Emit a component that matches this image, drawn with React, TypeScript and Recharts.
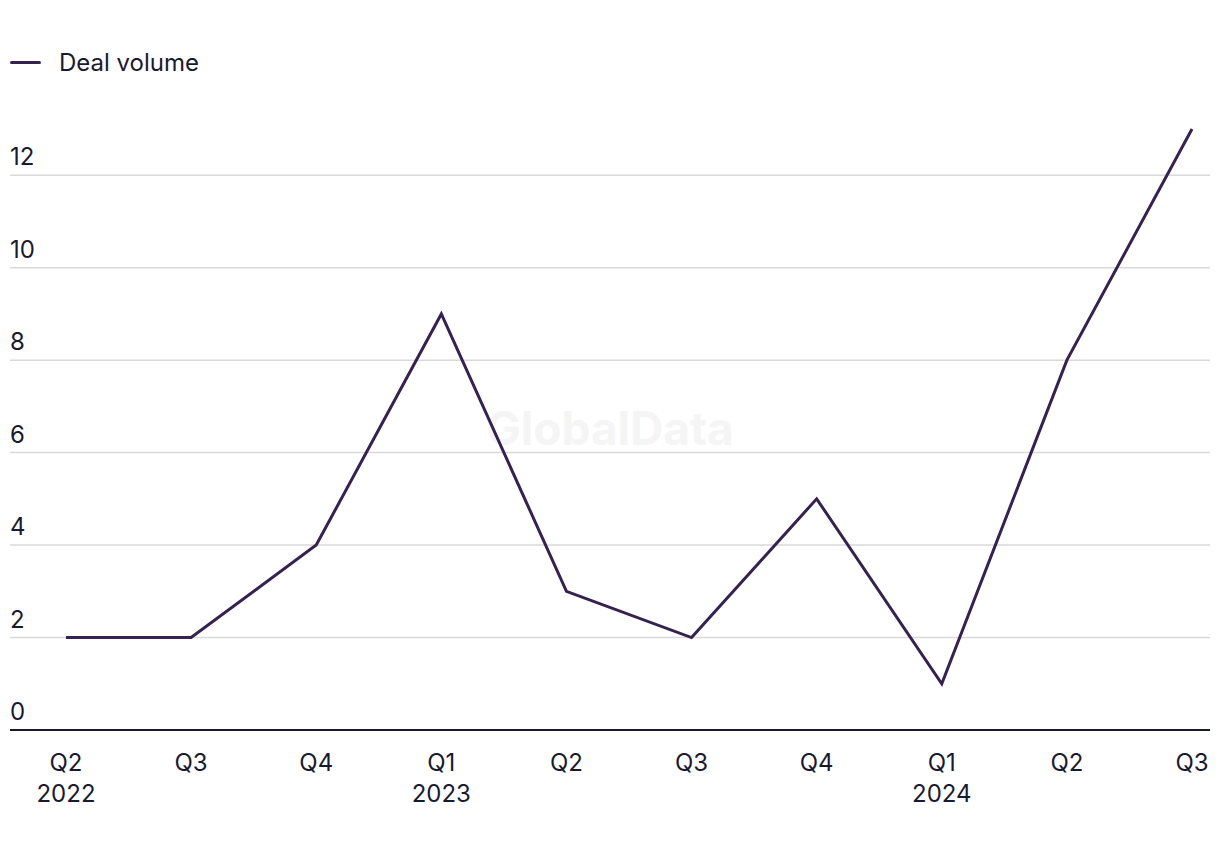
import React from 'react';
import { LineChart, Line, XAxis, YAxis, CartesianGrid } from 'recharts';

const quarters = ['Q2', 'Q3', 'Q4', 'Q1', 'Q2', 'Q3', 'Q4', 'Q1', 'Q2', 'Q3'];
const years = ['2022', '', '', '2023', '', '', '', '2024', '', ''];
const dealVolume = [2, 2, 4, 9, 3, 2, 5, 1, 8, 13];
const yTicks = [0, 2, 4, 6, 8, 10, 12];

const LINE_COLOR = '#35224f';
const TEXT_COLOR = '#1a1a2e';
const FONT = 'Inter, "Noto Sans", sans-serif';
const FONT_SIZE = 24;

const data = quarters.map((q, i) => ({
  key: `${q}-${i}`,
  quarter: q,
  year: years[i],
  value: dealVolume[i],
}));

function XTick(props: any) {
  const { x, y, index } = props;
  const row = data[index];
  return (
    <g>
      <text x={x} y={y + 33} textAnchor="middle" fill={TEXT_COLOR} fontSize={FONT_SIZE} fontFamily={FONT}>
        {row.quarter}
      </text>
      {row.year && (
        <text x={x} y={y + 64} textAnchor="middle" fill={TEXT_COLOR} fontSize={FONT_SIZE} fontFamily={FONT}>
          {row.year}
        </text>
      )}
    </g>
  );
}

function YTick(props: any) {
  const { y, payload } = props;
  return (
    <text x={10} y={y - 10} textAnchor="start" fill={TEXT_COLOR} fontSize={FONT_SIZE} fontFamily={FONT}>
      {payload.value}
    </text>
  );
}

export default function App() {
  return (
    <div style={{ position: 'absolute', left: 0, top: 0, width: 1220, height: 850, background: '#fff' }}>
      <div
        style={{
          position: 'absolute',
          left: 0,
          width: 1220,
          top: 400,
          textAlign: 'center',
          fontFamily: FONT,
          fontWeight: 700,
          fontSize: 46,
          color: '#f5f5f5',
          pointerEvents: 'none',
        }}
      >
        GlobalData
      </div>
      <div
        style={{
          position: 'absolute',
          top: 47,
          left: 10,
          display: 'flex',
          alignItems: 'center',
          fontFamily: FONT,
          fontSize: FONT_SIZE,
          color: TEXT_COLOR,
          height: 30,
        }}
      >
        <span style={{ display: 'inline-block', width: 31, height: 3, borderRadius: 2, background: LINE_COLOR, marginRight: 18 }} />
        Deal volume
      </div>
      <LineChart
        width={1220}
        height={850}
        data={data}
        margin={{ top: 129, right: 10, bottom: 0, left: 9 }}
        style={{ position: 'absolute', left: 0, top: 0 }}
      >
        <CartesianGrid vertical={false} stroke="#d9d9d9" strokeWidth={1.5} horizontalValues={yTicks} />
        <XAxis
          dataKey="key"
          interval={0}
          padding={{ left: 56, right: 18 }}
          axisLine={{ stroke: TEXT_COLOR, strokeWidth: 2 }}
          tickLine={false}
          tick={<XTick />}
          height={120}
        />
        <YAxis
          domain={[0, 13]}
          ticks={yTicks}
          interval={0}
          width={1}
          axisLine={false}
          tickLine={false}
          tick={<YTick />}
        />
        <Line
          type="linear"
          dataKey="value"
          stroke={LINE_COLOR}
          strokeWidth={3}
          dot={false}
          activeDot={false}
          isAnimationActive={false}
        />
      </LineChart>
    </div>
  );
}
